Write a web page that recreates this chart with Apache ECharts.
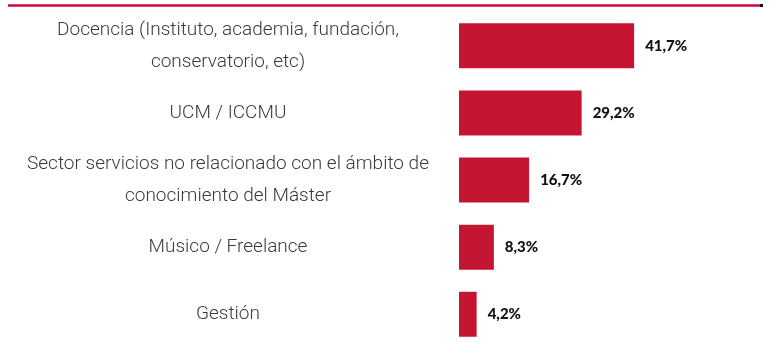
<!DOCTYPE html>
<html>
<head>
<meta charset="utf-8">
<style>
  html, body { margin: 0; padding: 0; background: #ffffff; }
  #chart { width: 771px; height: 343px; }
</style>
<script src="https://cdn.jsdelivr.net/npm/echarts@6/dist/echarts.min.js"></script>
</head>
<body>
<div id="chart"></div>
<script>
// Occupation of graduates, share of respondents (%)
const categories = [
  'Docencia (Instituto, academia, fundación,\nconservatorio, etc)',
  'UCM / ICCMU',
  'Sector servicios no relacionado con el ámbito de\nconocimiento del Máster',
  'Músico / Freelance',
  'Gestión'
];
const shares = [41.7, 29.2, 16.7, 8.3, 4.2];

const barColor = '#C41632';

const chart = echarts.init(document.getElementById('chart'), null, { renderer: 'canvas' });

chart.setOption({
  animation: false,
  backgroundColor: '#ffffff',
  grid: {
    left: 459, top: 12.3, width: 210, height: 335.5,
    containLabel: false,
    outerBoundsMode: 'none'
  },
  xAxis: {
    type: 'value',
    min: 0,
    max: 50,
    show: false
  },
  yAxis: {
    type: 'category',
    inverse: true,
    data: categories,
    axisLine: { show: false },
    axisTick: { show: false },
    splitLine: { show: false },
    axisLabel: {
      align: 'center',
      margin: 231,
      color: '#3a3a3a',
      fontFamily: 'Roboto',
      fontWeight: 300,
      fontSize: 19,
      lineHeight: 32,
      padding: [0, 0, 3, 0]
    }
  },
  series: [{
    type: 'bar',
    data: shares,
    barWidth: 45,
    itemStyle: { color: barColor },
    label: {
      show: true,
      position: 'right',
      distance: 11,
      color: '#111111',
      fontFamily: 'Lato',
      fontWeight: 900,
      fontSize: 15,
      formatter: p => p.value.toFixed(1).replace('.', ',') + '%'
    }
  }],
  graphic: [
    {
      type: 'line',
      shape: { x1: 8, y1: 5.5, x2: 761, y2: 5.5 },
      style: { stroke: '#D1063A', lineWidth: 2.5 }
    },
    {
      type: 'rect',
      shape: { x: 760, y: 4, width: 3, height: 3 },
      style: { fill: '#111111' }
    }
  ]
});
</script>
</body>
</html>
